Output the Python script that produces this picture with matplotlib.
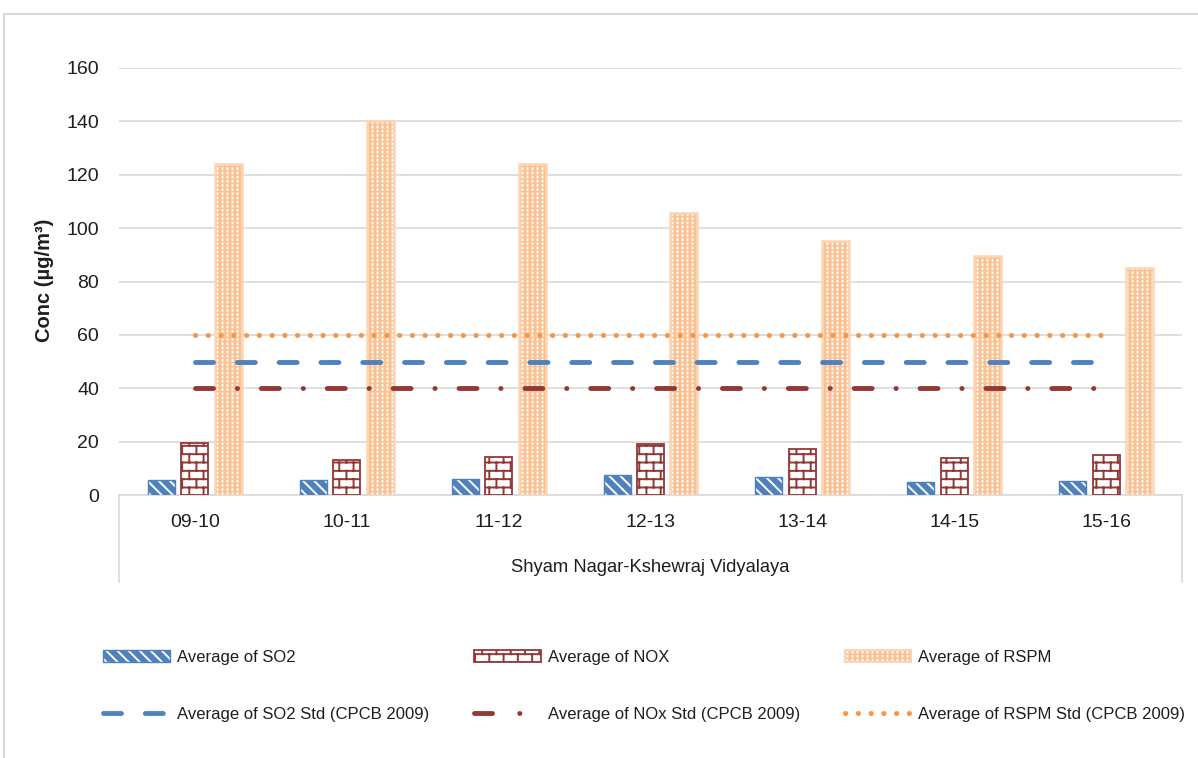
import warnings
warnings.filterwarnings('ignore')
import numpy as np
import matplotlib
matplotlib.use('Agg')
import matplotlib.pyplot as plt
from matplotlib.patches import Patch
from matplotlib.lines import Line2D
from matplotlib.path import Path
import matplotlib.hatch as mhatch

# ---------------- data ----------------
years = ['09-10', '10-11', '11-12', '12-13', '13-14', '14-15', '15-16']
so2 = [5.8, 5.5, 6.0, 7.6, 6.6, 4.9, 5.4]
nox = [19.5, 13.3, 14.2, 19.1, 17.4, 13.8, 15.1]
rspm = [124, 140, 124, 105.5, 95, 89.5, 85.2]
so2_std = [50, 50, 50, 50, 50, 50, 50]
nox_std = [40, 40, 40, 40, 40, 40, 40]
rspm_std = [60, 60, 60, 60, 60, 60, 60]
station = 'Shyam Nagar-Kshewraj Vidyalaya'
yticks = [0, 20, 40, 60, 80, 100, 120, 140, 160]
labels = ['Average of SO2', 'Average of SO2 Std (CPCB 2009)',
          'Average of NOX', 'Average of NOx Std (CPCB 2009)',
          'Average of RSPM', 'Average of RSPM Std (CPCB 2009)']

# ---------------- custom hatches ----------------
class BrickHatch(mhatch.HatchPatternBase):
    def __init__(self, hatch, density):
        n = hatch.count('b')
        self.rows = 12 * n
        self.cols = 7 * n
        self.num_vertices = (self.rows * 2 + (self.rows + 1) * 2 * self.cols) if n else 0

    def set_vertices_and_codes(self, vertices, codes):
        k = 0
        R, C = self.rows, self.cols
        for i in range(R):
            y = (i + 0.5) / R
            vertices[k] = (0.0, y); codes[k] = Path.MOVETO; k += 1
            vertices[k] = (1.0, y); codes[k] = Path.LINETO; k += 1
        for i in range(-1, R):
            y0 = (i + 0.5) / R
            y1 = (i + 1.5) / R
            off = 0.5 if (i % 2) else 0.0
            for j in range(C):
                x = (j + 0.25 + off) / C
                vertices[k] = (x, y0); codes[k] = Path.MOVETO; k += 1
                vertices[k] = (x, y1); codes[k] = Path.LINETO; k += 1


class DotGridHatch(mhatch.HatchPatternBase):
    def __init__(self, hatch, density):
        n = hatch.count('d')
        self.rows = 24 * n
        self.cols = 20 * n
        self.num_vertices = self.rows * self.cols * 2 if n else 0

    def set_vertices_and_codes(self, vertices, codes):
        k = 0
        for i in range(self.rows):
            y = (i + 0.5) / self.rows
            for j in range(self.cols):
                x = (j + 0.5) / self.cols
                vertices[k] = (x, y - 0.004); codes[k] = Path.MOVETO; k += 1
                vertices[k] = (x, y + 0.004); codes[k] = Path.LINETO; k += 1


mhatch._hatch_types.append(BrickHatch)
mhatch._hatch_types.append(DotGridHatch)
mhatch._validate_hatch_pattern = lambda h: None

# ---------------- style ----------------
plt.rcParams['font.family'] = ['Liberation Sans', 'DejaVu Sans']
plt.rcParams['hatch.linewidth'] = 1.4

BLUE = '#4f81bd'
RED = '#953735'
ORANGE = '#f79646'
RSPM_FACE = '#fac090'
RSPM_EDGE = '#fcd5b5'
GRID = '#d9d9d9'
TXT = '#1e1e1e'
FS_TICK = 14
FS_LEG = 12
FS_CAT = 13.2
FS_YLAB = 14.5

W, H = 1198, 758
fig = plt.figure(figsize=(W / 100, H / 100), dpi=100)
ax = fig.add_axes([119 / W, 1 - 495 / H, 1063 / W, 427 / H])

x = np.arange(len(years))
bw = 0.178
off = 0.22

# SO2 bars (blue with white diagonal stripes)
ax.bar(x - off, so2, bw, facecolor=BLUE, edgecolor='white', hatch='\\\\\\', linewidth=0, zorder=3)
ax.bar(x - off, so2, bw, facecolor='none', edgecolor=BLUE, linewidth=1.0, zorder=4)
# NOx bars (brick)
ax.bar(x, nox, bw, facecolor='white', edgecolor=RED, hatch='b', linewidth=1.3, zorder=3)
# RSPM bars (dotted)
ax.bar(x + off, rspm, bw, facecolor=RSPM_FACE, edgecolor='white', hatch='d', linewidth=0, zorder=3)
ax.bar(x + off, rspm, bw, facecolor='none', edgecolor=RSPM_EDGE, linewidth=1.8, zorder=4)

# standard lines
SO2_LS = (0, (3.7, 4.9))
NOX_LS = (0, (3.7, 4.9, 0.05, 4.9))
RSPM_LS = (0, (0.05, 2.5))
ax.plot(x, so2_std, color=BLUE, lw=3.5, linestyle=SO2_LS, dash_capstyle='round', zorder=5)
ax.plot(x, nox_std, color=RED, lw=3.5, linestyle=NOX_LS, dash_capstyle='round', zorder=5)
ax.plot(x, rspm_std, color=ORANGE, lw=3.6, linestyle=RSPM_LS, dash_capstyle='round', zorder=5)

ax.set_xlim(-0.5, len(years) - 0.5)
ax.set_ylim(0, 160)
ax.set_yticks(yticks)
ax.set_xticks(x)
ax.set_xticklabels(years)
ax.tick_params(axis='both', length=0, labelsize=FS_TICK, colors=TXT)
ax.tick_params(axis='y', pad=14.4)
ax.tick_params(axis='x', pad=14)
ax.yaxis.grid(True, color=GRID, linewidth=1.2, zorder=0)
ax.set_axisbelow(True)
for s in ax.spines.values():
    s.set_visible(False)

# category box lines
depth = (582 - 495) / 427
for xx in (0, 1):
    ax.plot([xx, xx], [0, -depth], transform=ax.transAxes, clip_on=False,
            color=GRID, lw=1.2)
ax.plot([0, 1], [0, 0], transform=ax.transAxes, clip_on=False, color=GRID, lw=1.2, zorder=1)

ax.text(0.5, -(567 - 495) / 427, station, transform=ax.transAxes,
        ha='center', va='center', fontsize=FS_CAT, color=TXT)

fig.text(45 / W, 1 - 280 / H, 'Conc (µg/m³)', rotation=90, ha='center', va='center',
         fontsize=FS_YLAB, fontweight='bold', color=TXT)

# outer frame
fig.add_artist(Line2D([4 / W, 1], [1 - 14 / H, 1 - 14 / H], color=GRID, lw=1.5,
                      transform=fig.transFigure))
fig.add_artist(Line2D([4 / W, 4 / W], [0, 1 - 14 / H], color=GRID, lw=1.5,
                      transform=fig.transFigure))

# legend
h_so2 = (Patch(facecolor=BLUE, edgecolor='white', hatch='\\\\\\', linewidth=0),
         Patch(facecolor='none', edgecolor=BLUE, linewidth=1.0))
h_nox = Patch(facecolor='white', edgecolor=RED, hatch='b', linewidth=1.3)
h_rspm = (Patch(facecolor=RSPM_FACE, edgecolor='white', hatch='d', linewidth=0),
          Patch(facecolor='none', edgecolor=RSPM_EDGE, linewidth=1.5))
l_so2 = Line2D([], [], color=BLUE, lw=3.5, linestyle=SO2_LS, dash_capstyle='round')
l_nox = Line2D([], [], color=RED, lw=3.5, linestyle=(0, (3.7, 5.6, 0.05, 8.0)),
               dash_capstyle='round')
l_rspm = Line2D([], [], color=ORANGE, lw=3.6, linestyle=RSPM_LS, dash_capstyle='round')

leg = fig.legend([h_so2, l_so2, h_nox, l_nox, h_rspm, l_rspm], labels,
                 ncol=3, loc='upper left', bbox_to_anchor=(103 / W, 1 - 650 / H),
                 frameon=False, fontsize=FS_LEG, handlelength=4.0, handleheight=0.7,
                 handletextpad=0.42, columnspacing=2.7, labelspacing=2.5,
                 borderpad=0, borderaxespad=0)
for t in leg.get_texts():
    t.set_color(TXT)

fig.savefig('out.png', dpi=100, facecolor='white')
